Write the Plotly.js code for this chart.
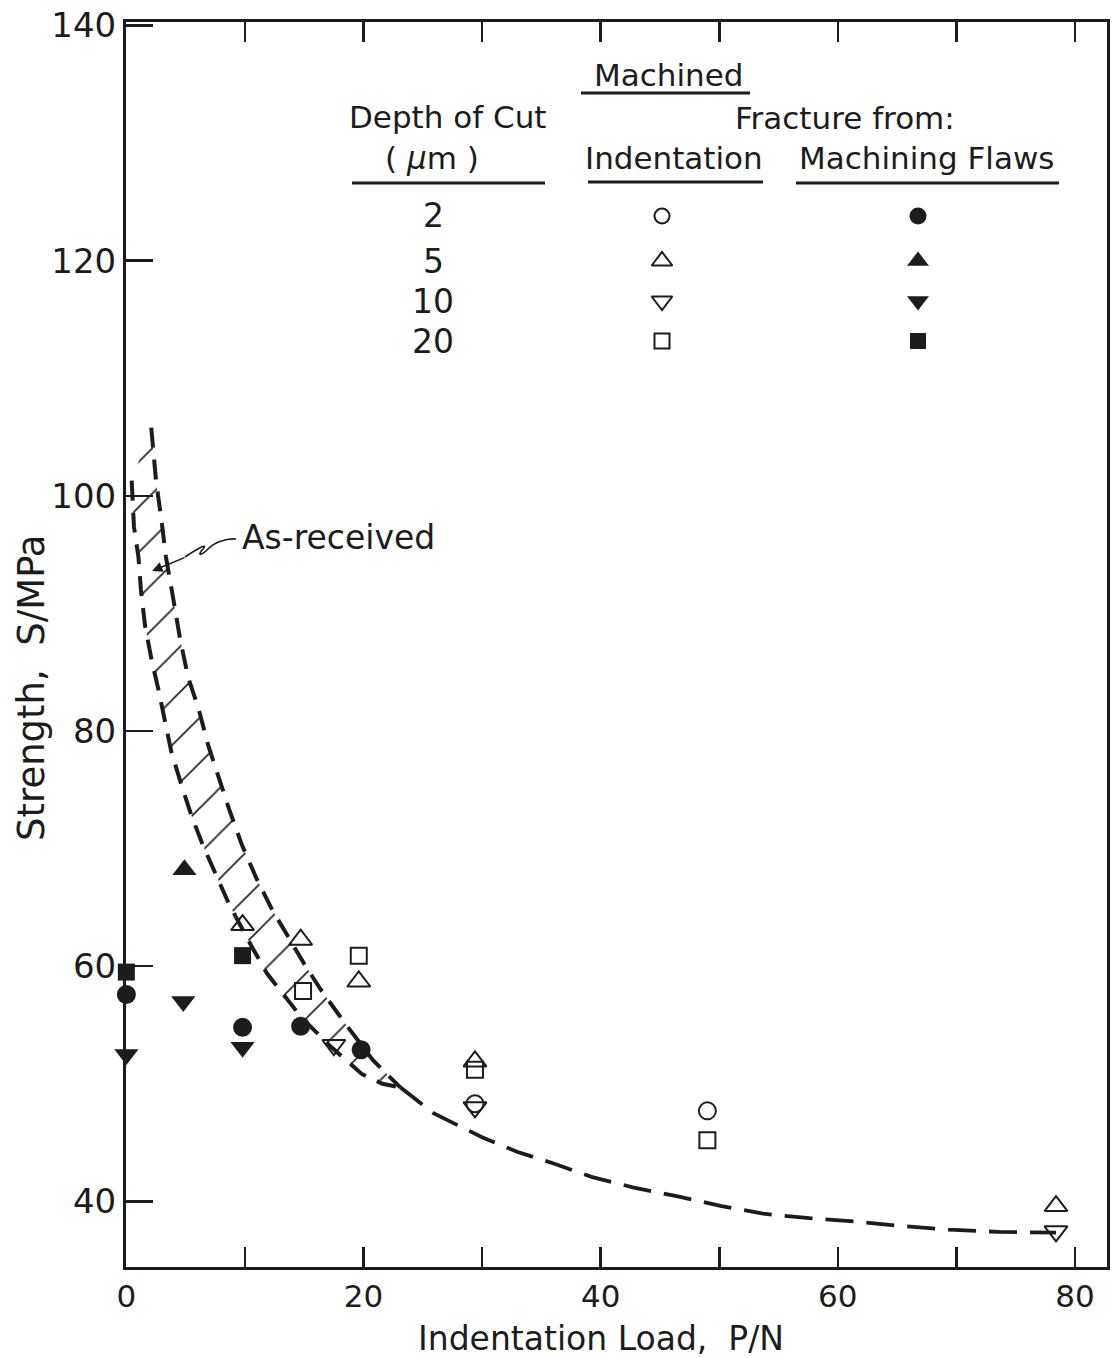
<!DOCTYPE html>
<html><head><meta charset="utf-8">
<script src="https://cdn.plot.ly/plotly-3.0.1.min.js"></script>
<style>html,body{margin:0;padding:0;background:#fff}</style>
</head><body><div id="chart" style="width:1115px;height:1358px"></div>
<script>
// ---------------- DATA ----------------
const depthLabels = ['2', '5', '10', '20'];
const indentSymbols = ['circle-open', 'triangle-up-open', 'triangle-down-open', 'square-open'];
const flawSymbols = ['circle', 'triangle-up', 'triangle-down', 'square'];

// Fracture from indentation (open symbols)
const ind2X = [29.4, 49.0];                 const ind2Y = [48.3, 47.7];
const ind5X = [9.8, 14.7, 19.6, 29.4, 78.4]; const ind5Y = [63.5, 62.25, 58.7, 51.9, 39.6];
const ind10X = [17.5, 29.4, 78.4];           const ind10Y = [53.3, 48.0, 37.45];
const ind20X = [14.9, 19.6, 29.4, 49.0];     const ind20Y = [57.9, 60.9, 51.2, 45.2];

// Fracture from machining flaws (filled symbols)
const flaw2X = [0, 9.8, 14.7, 19.8];  const flaw2Y = [57.6, 54.8, 54.9, 52.9];
const flaw5X = [4.9];                 const flaw5Y = [68.2];
const flaw10X = [0, 4.8, 9.8];        const flaw10Y = [52.5, 57.0, 53.1];
const flaw20X = [0, 9.8];             const flaw20Y = [59.5, 60.9];

// As-received band (upper/right and lower/left boundaries) and tail curve
const bandUpperX = [2.1, 2.5, 2.96, 3.34, 3.93, 4.52, 5.2, 6.06, 6.9, 7.8, 8.65, 9.75, 11.0, 12.3, 13.4, 15.0, 16.4, 18.4, 20.8, 23.1];
const bandUpperY = [105.8, 101.3, 97.95, 94.8, 91.4, 87.9, 84.6, 82.0, 78.8, 76.0, 73.4, 70.3, 67.4, 64.8, 62.9, 60.2, 58.0, 55.2, 52.0, 49.7];
const bandLowerX = [0.45, 0.64, 1.02, 1.23, 1.57, 2.12, 2.71, 3.2, 3.8, 4.65, 5.49, 6.49, 7.6, 8.65, 10.5, 11.85, 13.4, 14.8, 17.3, 19.9, 21.6, 23.1];
const bandLowerY = [101.3, 97.4, 94.8, 92.0, 89.0, 86.1, 83.5, 80.95, 78.2, 75.4, 72.8, 70.2, 67.7, 65.3, 61.8, 59.4, 57.4, 55.6, 53.1, 50.8, 50.0, 49.7];
const tailX = [23.1, 25.9, 27.5, 30.0, 33.0, 36.1, 39.3, 42.7, 46.4, 50.2, 53.7, 57.6, 61.45, 65.4, 69.4, 73.6, 78.4];
const tailY = [49.7, 47.5, 46.7, 45.46, 44.2, 43.2, 42.06, 41.2, 40.44, 39.6, 38.95, 38.57, 38.3, 37.9, 37.6, 37.4, 37.35];

// Axis ticks
const xTickVals = [0, 10, 20, 30, 40, 50, 60, 70, 80];
const xTickText = ['0', '', '20', '', '40', '', '60', '', '80'];
const yTickVals = [40, 60, 80, 100, 120, 140];
const yTickText = ['40', '60', '80', '100', '120', '140'];

// ---------------- LAYOUT GEOMETRY ----------------
const W = 1115, H = 1358;
const M = {l: 126, r: 8, t: 22, b: 91};
const PW = W - M.l - M.r, PH = H - M.t - M.b;
const xRange = [-0.03, 82.7];
const yRange = [34.42, 140.3];
const INK = '#1c1c1c';
const FONT = 'DejaVu Sans, Noto Sans, sans-serif';

const pxX = p => (p - M.l) / PW;            // pixel -> paper
const pxY = p => 1 - (p - M.t) / PH;
const dX = p => xRange[0] + pxX(p) * (xRange[1] - xRange[0]); // pixel -> data
const dY = p => yRange[0] + pxY(p) * (yRange[1] - yRange[0]);

const traces = [];

// Hatched band
traces.push({
  x: bandUpperX.concat(bandLowerX.slice().reverse()),
  y: bandUpperY.concat(bandLowerY.slice().reverse()),
  mode: 'lines', fill: 'toself', line: {width: 0, color: 'rgba(0,0,0,0)'},
  fillcolor: 'rgba(255,255,255,0)',
  fillpattern: {shape: '/', size: 32, solidity: 0.05, fgcolor: INK, bgcolor: 'rgba(255,255,255,0)'},
  hoverinfo: 'skip', showlegend: false
});
traces.push({x: bandUpperX, y: bandUpperY, mode: 'lines', line: {color: INK, width: 4, dash: '20px,12px'}, showlegend: false});
traces.push({x: bandLowerX, y: bandLowerY, mode: 'lines', line: {color: INK, width: 4, dash: '20px,12px'}, showlegend: false});
traces.push({x: tailX, y: tailY, mode: 'lines', line: {color: INK, width: 3.8, dash: '28px,13px'}, showlegend: false});

const indSets = [[ind2X, ind2Y], [ind5X, ind5Y], [ind10X, ind10Y], [ind20X, ind20Y]];
const flawSets = [[flaw2X, flaw2Y], [flaw5X, flaw5Y], [flaw10X, flaw10Y], [flaw20X, flaw20Y]];
const openSize = [17, 20, 20, 16];
const fillSize = [19, 21, 21, 17];

indSets.forEach((s, i) => traces.push({
  x: s[0], y: s[1], mode: 'markers', cliponaxis: false, showlegend: false,
  marker: {symbol: indentSymbols[i], size: openSize[i], color: INK, line: {width: 2, color: INK}}
}));
flawSets.forEach((s, i) => traces.push({
  x: s[0], y: s[1], mode: 'markers', cliponaxis: false, showlegend: false,
  marker: {symbol: flawSymbols[i], size: fillSize[i], color: INK, line: {width: 0}}
}));

// Legend table markers (one trace per row/column)
const rowPx = [216, 261, 301, 341];
const colIndPx = 662, colFlawPx = 918;
const legOpenSize = [15, 18, 18, 15];
const legFillSize = [17, 19, 19, 16];
depthLabels.forEach((d, i) => {
  traces.push({
    x: [dX(colIndPx)], y: [dY(rowPx[i])], mode: 'markers', cliponaxis: false, showlegend: false,
    marker: {symbol: indentSymbols[i], size: legOpenSize[i], color: INK, opacity: 1, line: {width: 2, color: INK}}
  });
  traces.push({
    x: [dX(colFlawPx)], y: [dY(rowPx[i])], mode: 'markers', cliponaxis: false, showlegend: false,
    marker: {symbol: flawSymbols[i], size: legFillSize[i], color: INK, opacity: 1, line: {width: 0}}
  });
});

// ---------------- ANNOTATIONS ----------------
const txt = (text, px, py, size, extra) => Object.assign({
  text: text, xref: 'paper', yref: 'paper', x: pxX(px), y: pxY(py),
  xanchor: 'center', yanchor: 'middle', showarrow: false,
  font: {family: FONT, size: size, color: INK}
}, extra || {});

const annotations = [
  txt('Machined', 668, 75, 31),
  txt('Depth of Cut', 447, 117, 31),
  txt('Fracture from:', 845, 118, 31),
  txt('( <i>μ</i>m )', 432, 158, 31),
  txt('Indentation', 674, 158, 31),
  txt('Machining Flaws', 926, 158, 31),
  txt('As-received', 338, 537, 33),
  txt('Indentation Load,  P/N', 601, 1338, 33),
  txt('Strength,  S/MPa', 31, 688, 37, {textangle: -90})
];
depthLabels.forEach((d, i) => annotations.push(txt(d, 433, rowPx[i], 33)));
// arrowhead for "As-received"
annotations.push({
  xref: 'x', yref: 'y', x: dX(152), y: dY(571), ax: 34, ay: -14,
  axref: 'pixel', ayref: 'pixel', text: '', showarrow: true,
  arrowhead: 2, arrowsize: 1.3, arrowwidth: 1.6, arrowcolor: INK
});

const hl = (x0, x1, y) => ({type: 'line', xref: 'paper', yref: 'paper', x0: pxX(x0), x1: pxX(x1), y0: pxY(y), y1: pxY(y), line: {color: INK, width: 3}});
const P = (a, b) => pxX(a).toFixed(5) + ',' + pxY(b).toFixed(5);
const shapes = [
  hl(581, 750, 93),
  hl(352, 545, 183),
  hl(588, 763, 182),
  hl(796, 1059, 183),
  {type: 'path', xref: 'paper', yref: 'paper', line: {color: INK, width: 1.6},
   path: 'M' + P(236, 539) + ' C' + P(226, 538) + ' ' + P(214, 543) + ' ' + P(208, 549) +
         ' C' + P(202, 555) + ' ' + P(196, 557) + ' ' + P(203, 549) +
         ' C' + P(208, 543) + ' ' + P(200, 547) + ' ' + P(185, 557)}
];

const axisCommon = {
  showgrid: false, zeroline: false, showline: true, linewidth: 3, linecolor: INK,
  ticks: 'inside', tickwidth: 2.5, tickcolor: INK, tickmode: 'array'
};

const layout = {
  width: W, height: H, margin: M, paper_bgcolor: '#fff', plot_bgcolor: '#fff', showlegend: false,
  xaxis: Object.assign({}, axisCommon, {range: xRange, tickvals: xTickVals, ticktext: xTickText, ticklen: 20, mirror: 'ticks',
    tickfont: {family: FONT, size: 31, color: INK}}),
  yaxis: Object.assign({}, axisCommon, {range: yRange, tickvals: yTickVals, ticktext: yTickText, ticklen: 27, mirror: true,
    tickfont: {family: FONT, size: 34, color: INK}}),
  annotations: annotations, shapes: shapes
};

Plotly.newPlot('chart', traces, layout, {staticPlot: true});
</script></body></html>
